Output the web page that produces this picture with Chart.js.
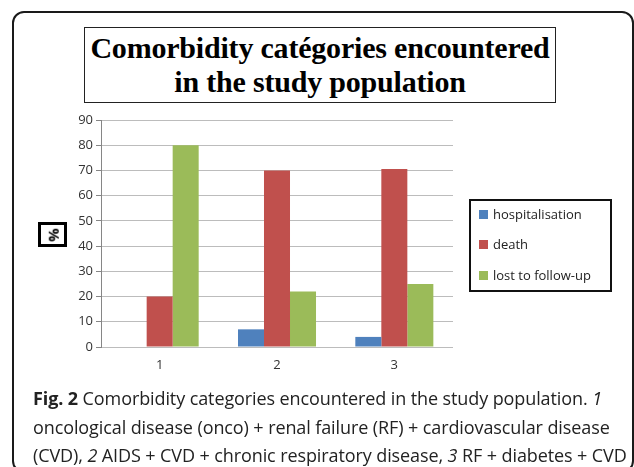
<!DOCTYPE html>
<html>
<head>
<meta charset="utf-8">
<script src="https://cdn.jsdelivr.net/npm/chart.js@4.4.1/dist/chart.umd.min.js"></script>
<style>
  html, body { margin: 0; padding: 0; background: #fff; }
  #wrap { position: relative; width: 634px; height: 467px; overflow: hidden; }
  #chart { position: absolute; left: 0; top: 0; }
  #frame {
    position: absolute; left: 12px; top: 11px; width: 622px; height: 462px;
    border: 2px solid #1a1a1a; border-radius: 12px; box-sizing: border-box;
  }
  #title {
    position: absolute; left: 84px; top: 27px; width: 472px; height: 76px;
    border: 1.5px solid #222; box-sizing: border-box; background: #fff;
    font-family: "Liberation Serif", serif; font-weight: bold;
    font-size: 30px; line-height: 34px; text-align: center; color: #000;
    padding-top: 3px; letter-spacing: -0.2px;
  }
  #pct {
    position: absolute; left: 38px; top: 222px; width: 29px; height: 25px;
    border: 3px solid #000; box-sizing: border-box; background: #fff;
    font-family: "Open Sans", sans-serif; font-size: 15px; font-weight: bold;
    display: flex; align-items: center; justify-content: center;
  }
  #pct span { display: inline-block; transform: rotate(-90deg); }
  #legend {
    position: absolute; left: 469px; top: 199px; width: 143px; height: 93px;
    border: 2px solid #111; box-sizing: border-box; background: #fff;
    font-family: "Open Sans", sans-serif; font-size: 13px; color: #222;
  }
  #legend div { position: absolute; left: 8px; white-space: nowrap; line-height: 16px; }
  #legend i { display: inline-block; width: 9px; height: 9px; margin-right: 5px; vertical-align: 0px; }
  #caption {
    position: absolute; left: 33px; top: 384px; width: 600px;
    font-family: "Open Sans", sans-serif; font-size: 18px; line-height: 28.5px;
    color: #222; white-space: nowrap; letter-spacing: -0.1px;
  }
</style>
</head>
<body>
<div id="wrap">
  <canvas id="chart" width="634" height="467"></canvas>
  <div id="frame"></div>
  <div id="title">Comorbidity catégories encountered<br>in the study population</div>
  <div id="pct"><span>%</span></div>
  <div id="legend"></div>
  <div id="caption">
    <b>Fig. 2</b> Comorbidity categories encountered in the study population. <i>1</i><br>
    oncological disease (onco) + renal failure (RF) + cardiovascular disease<br>
    (CVD), <i>2</i> AIDS + CVD + chronic respiratory disease, <i>3</i> RF + diabetes + CVD
  </div>
</div>
<script>
  var categories = ["1", "2", "3"];
  var seriesNames = ["hospitalisation", "death", "lost to follow-up"];
  var hospitalisation = [0, 7, 4];
  var death = [20, 70, 70.6];
  var lostToFollowUp = [80, 22, 25];
  var colors = ["#4f81bd", "#c0504d", "#9bbb59"];

  var values = [hospitalisation, death, lostToFollowUp];
  var datasets = [];
  for (var i = 0; i < seriesNames.length; i++) {
    datasets.push({
      label: seriesNames[i],
      data: values[i],
      backgroundColor: colors[i],
      borderWidth: 0,
      barPercentage: 1.0,
      categoryPercentage: 0.665,
    });
  }

  // html legend built from the series
  var legend = document.getElementById("legend");
  var legendTops = [5, 35, 66];
  for (var j = 0; j < seriesNames.length; j++) {
    var row = document.createElement("div");
    row.style.top = legendTops[j] + "px";
    row.innerHTML = '<i style="background:' + colors[j] + '"></i>' + seriesNames[j];
    legend.appendChild(row);
  }

  new Chart(document.getElementById("chart").getContext("2d"), {
    type: "bar",
    data: { labels: categories, datasets: datasets },
    options: {
      responsive: false,
      animation: false,
      layout: { padding: { top: 120, right: 181, bottom: 90, left: 0 } },
      scales: {
        x: {
          grid: { display: false, drawTicks: false },
          border: { display: false },
          ticks: {
            color: "#333",
            padding: 10,
            font: { family: "Open Sans", size: 13 },
          },
          afterFit: function (scale) { scale.height = 30; },
        },
        y: {
          min: 0,
          max: 90,
          grid: { color: "#bcbcbc", lineWidth: 1, tickLength: 5, tickColor: "#868686" },
          border: { display: true, color: "#868686" },
          ticks: {
            stepSize: 10,
            color: "#333",
            padding: 3,
            font: { family: "Open Sans", size: 13 },
          },
          afterFit: function (scale) { scale.width = 101; },
        },
      },
      plugins: {
        legend: { display: false },
        tooltip: { enabled: false },
      },
    },
  });
</script>
</body>
</html>
